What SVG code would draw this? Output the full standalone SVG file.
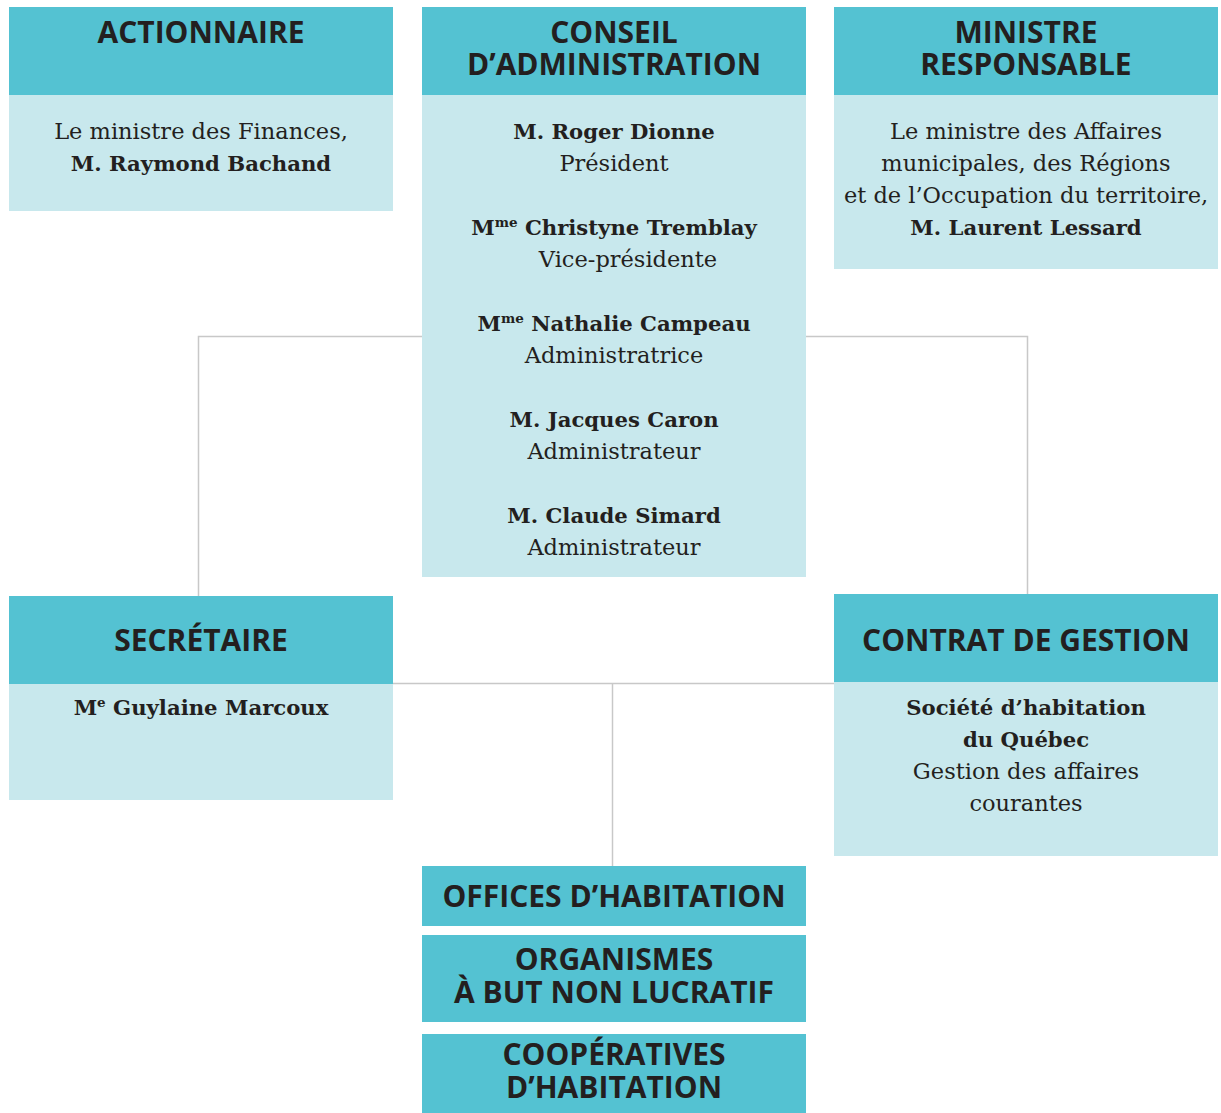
<svg xmlns="http://www.w3.org/2000/svg" width="1221" height="1113" viewBox="0 0 1221 1113">
<style>
.hd{fill:#54c2d2}
.bd{fill:#c8e8ed}
.h{font-family:"Open Sans","Noto Sans",sans-serif;font-weight:bold;font-size:30px;fill:#231f20;text-anchor:middle}
.t{font-family:"DejaVu Serif","Liberation Serif",serif;font-size:22.5px;fill:#231f20;text-anchor:middle}
.b{font-weight:bold;font-size:21.2px}
.sup{font-size:13.5px}
.ln{stroke:#c8c8c8;stroke-width:1.5;fill:none}
</style>
<rect width="1221" height="1113" fill="#ffffff"/>
<g id="connectors">
<path class="ln" d="M422,336.5 H198.5 V596"/>
<path class="ln" d="M806,336.5 H1027.5 V594"/>
<path class="ln" d="M393,683.5 H834"/>
<path class="ln" d="M612.5,683.5 V866"/>
</g>
<g id="actionnaire">
<rect class="hd" x="9" y="7" width="384" height="88"/>
<rect class="bd" x="9" y="95" width="384" height="116"/>
<text class="h" x="201" y="43">ACTIONNAIRE</text>
<text class="t"><tspan x="201" y="139">Le ministre des Finances,</tspan><tspan class="b" x="201" y="171">M. Raymond Bachand</tspan></text>
</g>
<g id="conseil">
<rect class="hd" x="422" y="7" width="384" height="88"/>
<rect class="bd" x="422" y="95" width="384" height="482"/>
<text class="h"><tspan x="614" y="43">CONSEIL</tspan><tspan x="614" y="75">D’ADMINISTRATION</tspan></text>
<text class="t"><tspan class="b" x="614" y="139">M. Roger Dionne</tspan><tspan x="614" y="171">Président</tspan></text>
<text class="t"><tspan class="b" x="614" y="235">M<tspan class="sup" dy="-8">me</tspan><tspan dy="8"> Christyne Tremblay</tspan></tspan><tspan x="628" y="267">Vice-présidente</tspan></text>
<text class="t"><tspan class="b" x="614" y="331">M<tspan class="sup" dy="-8">me</tspan><tspan dy="8"> Nathalie Campeau</tspan></tspan><tspan x="614" y="363">Administratrice</tspan></text>
<text class="t"><tspan class="b" x="614" y="427">M. Jacques Caron</tspan><tspan x="614" y="459">Administrateur</tspan></text>
<text class="t"><tspan class="b" x="614" y="523">M. Claude Simard</tspan><tspan x="614" y="555">Administrateur</tspan></text>
</g>
<g id="ministre">
<rect class="hd" x="834" y="7" width="384" height="88"/>
<rect class="bd" x="834" y="95" width="384" height="174"/>
<text class="h"><tspan x="1026" y="43">MINISTRE</tspan><tspan x="1026" y="75">RESPONSABLE</tspan></text>
<text class="t"><tspan x="1026" y="139">Le ministre des Affaires</tspan><tspan x="1026" y="171">municipales, des Régions</tspan><tspan x="1026" y="203">et de l’Occupation du territoire,</tspan><tspan class="b" x="1026" y="235">M. Laurent Lessard</tspan></text>
</g>
<g id="secretaire">
<rect class="hd" x="9" y="596" width="384" height="88"/>
<rect class="bd" x="9" y="684" width="384" height="116"/>
<text class="h" x="201" y="651">SECRÉTAIRE</text>
<text class="t b" x="201" y="715">M<tspan class="sup" dy="-8">e</tspan><tspan dy="8"> Guylaine Marcoux</tspan></text>
</g>
<g id="contrat">
<rect class="hd" x="834" y="594" width="384" height="88"/>
<rect class="bd" x="834" y="682" width="384" height="174"/>
<text class="h" x="1026" y="651">CONTRAT DE GESTION</text>
<text class="t"><tspan class="b" x="1026" y="715">Société d’habitation</tspan><tspan class="b" x="1026" y="747">du Québec</tspan><tspan x="1026" y="779">Gestion des affaires</tspan><tspan x="1026" y="811">courantes</tspan></text>
</g>
<g id="offices">
<rect class="hd" x="422" y="866" width="384" height="60"/>
<text class="h" x="614" y="907">OFFICES D’HABITATION</text>
</g>
<g id="organismes">
<rect class="hd" x="422" y="935" width="384" height="87"/>
<text class="h"><tspan x="614" y="970">ORGANISMES</tspan><tspan x="614" y="1003">À BUT NON LUCRATIF</tspan></text>
</g>
<g id="cooperatives">
<rect class="hd" x="422" y="1034" width="384" height="79"/>
<text class="h"><tspan x="614" y="1065">COOPÉRATIVES</tspan><tspan x="614" y="1098">D’HABITATION</tspan></text>
</g>
</svg>
